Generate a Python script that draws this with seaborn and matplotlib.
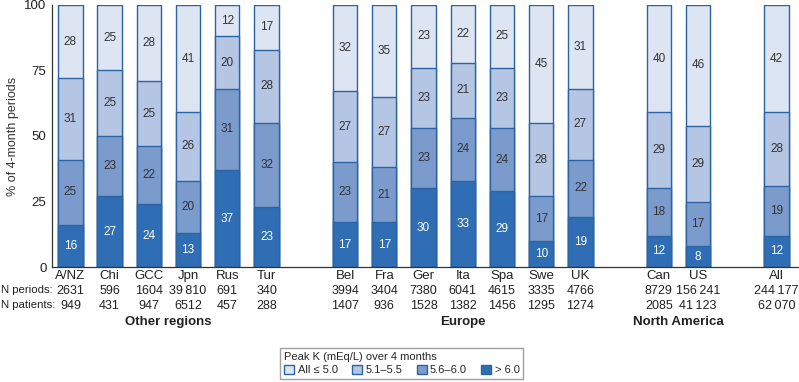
import numpy as np
import pandas as pd
import matplotlib.pyplot as plt
import matplotlib.patches as mpatches
import seaborn as sns

# =============================== #
# data
# =============================== #
countries = ["A/NZ", "Chi", "GCC", "Jpn", "Rus", "Tur",
             "Bel", "Fra", "Ger", "Ita", "Spa", "Swe", "UK",
             "Can", "US", "All"]
# slot positions along the x axis (gaps between the regions)
positions = [0, 1, 2, 3, 4, 5, 7, 8, 9, 10, 11, 12, 13, 15, 16, 18]

# % of 4-month periods, by peak K category
gt_60 = [16, 27, 24, 13, 37, 23, 17, 17, 30, 33, 29, 10, 19, 12, 8, 12]
k_56_60 = [25, 23, 22, 20, 31, 32, 23, 21, 23, 24, 24, 17, 22, 18, 17, 19]
k_51_55 = [31, 25, 25, 26, 20, 28, 27, 27, 23, 21, 23, 28, 27, 29, 29, 28]
le_50 = [28, 25, 28, 41, 12, 17, 32, 35, 23, 22, 25, 45, 31, 40, 46, 42]

n_periods = ["2631", "596", "1604", "39\u2009810", "691", "340",
             "3994", "3404", "7380", "6041", "4615", "3335", "4766",
             "8729", "156\u2009241", "244\u2009177"]
n_patients = ["949", "431", "947", "6512", "457", "288",
              "1407", "936", "1528", "1382", "1456", "1295", "1274",
              "2085", "41\u2009123", "62\u2009070"]

groups = ["Other regions", "Europe", "North America"]
group_centers = [2.5, 10, 15.5]

cat_labels = ["All \u2264 5.0", "5.1\u20135.5", "5.6\u20136.0", "> 6.0"]
colors = ["#dde5f3", "#b5c5e4", "#7b9bcd", "#2f6db4"]
edge = "#2c63a3"

# =============================== #
# process data
# =============================== #
df = pd.DataFrame({"country": countries, "pos": positions,
                   "gt_60": gt_60, "k_56_60": k_56_60,
                   "k_51_55": k_51_55, "le_50": le_50})
df["c1"] = df.gt_60
df["c2"] = df.c1 + df.k_56_60
df["c3"] = df.c2 + df.k_51_55
df["c4"] = 100.0  # top segment fills the bar

# =============================== #
# figure
# =============================== #
sns.set_style("white")
plt.rcParams["font.family"] = ["Liberation Sans", "DejaVu Sans"]

f, ax = plt.subplots(figsize=(7.99, 3.82), dpi=100)
plt.subplots_adjust(left=0.065, right=0.999, bottom=0.301, top=0.987)

# stack by drawing cumulative totals, tallest first
for col, color in zip(["c4", "c3", "c2", "c1"], colors):
    sns.barplot(data=df, x="pos", y=col, native_scale=True, ax=ax,
                color=color, saturation=1, width=0.62,
                edgecolor=edge, linewidth=1.0)

# segment labels
for _, r in df.iterrows():
    segs = [(0, r.c1, r.gt_60, "white"),
            (r.c1, r.c2, r.k_56_60, "#333333"),
            (r.c2, r.c3, r.k_51_55, "#333333"),
            (r.c3, r.c4, r.le_50, "#333333")]
    for lo, hi, v, tc in segs:
        ax.text(r.pos, (lo + hi) / 2, f"{v:d}", ha="center", va="center",
                fontsize=8.5, color=tc)

ax.set_xlim(-0.47, 18.55)
ax.set_ylim(0, 100)
ax.set_yticks([0, 25, 50, 75, 100])
ax.set_ylabel("% of 4-month periods", fontsize=9, color="#333333")
ax.set_xlabel("")
ax.set_xticks(positions)
ax.set_xticklabels(countries, fontsize=9.5, color="#222222")
ax.set_xticks(np.arange(0.5, 18, 1.0), minor=True)
ax.tick_params(axis="x", which="major", length=0, pad=2)
ax.tick_params(axis="x", which="minor", direction="in", length=3, width=0.8, color="#444444")
ax.tick_params(axis="y", length=2, labelsize=9.5, labelcolor="#222222", pad=2)

for s in ["top", "right"]:
    ax.spines[s].set_visible(False)
for s in ["left", "bottom"]:
    ax.spines[s].set_color("#333333")
    ax.spines[s].set_linewidth(0.9)

# N rows
trans = ax.get_xaxis_transform()
for p, a, b in zip(positions, n_periods, n_patients):
    ax.text(p, -0.092, a, transform=trans, ha="center", va="center", fontsize=9, color="#222222")
    ax.text(p, -0.149, b, transform=trans, ha="center", va="center", fontsize=9, color="#222222")
f.text(0.001, 1 - 290 / 382, "N periods:", ha="left", va="center", fontsize=8.2, color="#222222")
f.text(0.001, 1 - 305 / 382, "N patients:", ha="left", va="center", fontsize=8.2, color="#222222")

for g, c in zip(groups, group_centers):
    ax.text(c, -0.208, g, transform=trans, ha="center", va="center",
            fontsize=9.5, fontweight="bold", color="#222222")

# legend
handles = [mpatches.Patch(facecolor=c, edgecolor=edge, label=l) for c, l in zip(colors, cat_labels)]
leg = f.legend(handles=handles, loc="center", bbox_to_anchor=(0.503, 0.048), ncol=4,
               title="Peak K (mEq/L) over 4 months", fontsize=8, title_fontsize=8,
               frameon=True, fancybox=False, edgecolor="#888888", handlelength=0.9,
               handleheight=0.9, handletextpad=0.3, columnspacing=1.3,
               borderpad=0.35, labelspacing=0.2, borderaxespad=0)
leg._legend_box.align = "left"

plt.savefig("out.png", dpi=100)
